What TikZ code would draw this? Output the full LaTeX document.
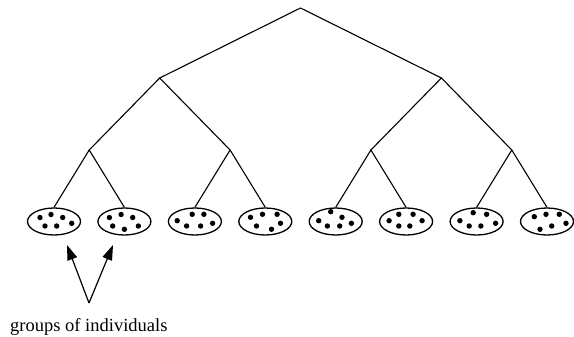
\documentclass[tikz,border=0pt]{standalone}
\usepackage{fontspec}
\setmainfont{Liberation Serif}
\usetikzlibrary{arrows.meta,shapes.geometric}
\begin{document}
\begin{tikzpicture}[x=1pt,y=-1pt,
  grp/.style={draw,ellipse,line width=1.3pt,minimum width=53pt,minimum height=27pt,inner sep=0pt},
  edge/.style={line width=1.1pt},
  pointer/.style={line width=1.2pt,-{Triangle[length=15pt,width=10pt]}},
  dot/.style={fill=black}]
\useasboundingbox (0,0) rectangle (574,337);
% groups
\node[grp] (g1) at (54,221.5) {};
\node[grp] (g2) at (124.4,221.5) {};
\node[grp] (g3) at (194.9,221.5) {};
\node[grp] (g4) at (265.3,221.5) {};
\node[grp] (g5) at (335.7,221.5) {};
\node[grp] (g6) at (406.1,221.5) {};
\node[grp] (g7) at (476.6,221.5) {};
\node[grp] (g8) at (547,221.5) {};
% dots
\foreach \g/\pts in {
  g1/{(-14,-4),(-3,-7),(8.7,-4),(-9,4.5),(2.7,4.5),(17.7,1.8)},
  g2/{(-15,-4),(-3.3,-7),(8.3,-4),(-11.7,4.5),(0,7.8),(14,4.5)},
  g3/{(-17.7,-0.8),(-2.7,-7.2),(9,-7.2),(-8.3,4.5),(5.7,4.5),(17.7,1.8)},
  g4/{(-14.8,-4.2),(-2.8,-7.2),(11.8,-7.2),(-8.8,4.5),(6.2,7.8),(15.2,1.8)},
  g5/{(-17,-0.8),(-5,-9.8),(6.3,-4.2),(-8.3,4.5),(4,4.5),(15.7,1.8)},
  g6/{(-17,-0.8),(-7.3,-7.2),(7,-7.2),(-7.3,4.5),(3.7,4.5),(16,-0.8)},
  g7/{(-16.7,-0.8),(-3.4,-8.8),(10,-7.2),(-7.4,4.5),(4.3,4.5),(19,1.8)},
  g8/{(-12.7,-4.8),(-1,-7.2),(12.3,-7.2),(-7,7.8),(4.7,4.5),(19,1.8)}}{
  \foreach \p in \pts {\fill[dot] ([shift={\p}]\g.center) circle (2.7pt);}
}
% tree junctions
\coordinate (root) at (300.5,8);
\coordinate (a) at (159.7,78);
\coordinate (b) at (441.4,78);
\coordinate (a1) at (89.2,150);
\coordinate (a2) at (230.1,150);
\coordinate (b1) at (370.9,150);
\coordinate (b2) at (511.8,150);
\draw[edge] (a) -- (root) -- (b);
\draw[edge] (a1) -- (a) -- (a2);
\draw[edge] (b1) -- (b) -- (b2);
\draw[edge] (g1.north) -- (a1) -- (g2.north);
\draw[edge] (g3.north) -- (a2) -- (g4.north);
\draw[edge] (g5.north) -- (b1) -- (g6.north);
\draw[edge] (g7.north) -- (b2) -- (g8.north);
% label and pointers
\node[anchor=base west,inner sep=0pt,font=\fontsize{18.5}{22}\selectfont] (lbl) at (10,331) {groups of individuals};
\coordinate (base) at (89,303);
\coordinate (t1) at (67,245);
\coordinate (t2) at (113,245);
\draw[pointer] (base) -- (t1);
\draw[pointer] (base) -- (t2);
\end{tikzpicture}
\end{document}
